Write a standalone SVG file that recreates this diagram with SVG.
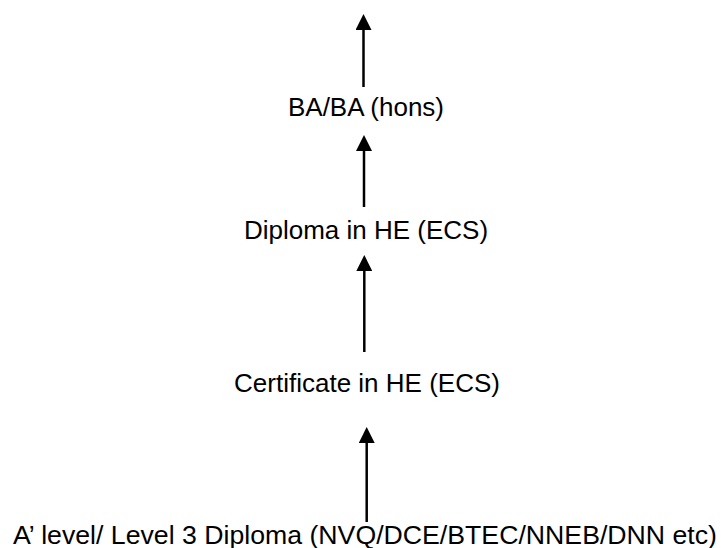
<svg xmlns="http://www.w3.org/2000/svg" width="721" height="548" viewBox="0 0 721 548">
<style>
.lbl{font-family:"Liberation Sans",Arial,sans-serif;font-size:26px;fill:#000}
.c{text-anchor:middle}
.arr{stroke:#000;stroke-width:2.5;fill:none;marker-end:url(#ah)}
</style>
<defs>
<marker id="ah" viewBox="0 0 16 16" refX="0" refY="8" markerWidth="16" markerHeight="16" markerUnits="userSpaceOnUse" orient="auto">
<path d="M0,0 L16,8 L0,16 z" fill="#000"/>
</marker>
</defs>
<rect width="721" height="548" fill="#fff"/>
<g id="connectors">
<line class="arr" x1="363.5" y1="87" x2="363.5" y2="30"/>
<line class="arr" x1="364" y1="207" x2="364" y2="151"/>
<line class="arr" x1="364.3" y1="352" x2="364.3" y2="271"/>
<line class="arr" x1="366.7" y1="522" x2="366.7" y2="443"/>
</g>
<g id="ba"><text class="lbl c" x="366" y="116">BA/BA (hons)</text></g>
<g id="diploma"><text class="lbl c" x="366" y="239">Diploma in HE (ECS)</text></g>
<g id="certificate"><text class="lbl c" x="367" y="392">Certificate in HE (ECS)</text></g>
<g id="alevel"><text class="lbl" x="13" y="544" textLength="704" lengthAdjust="spacingAndGlyphs">A’ level/ Level 3 Diploma (NVQ/DCE/BTEC/NNEB/DNN etc)</text></g>
</svg>
